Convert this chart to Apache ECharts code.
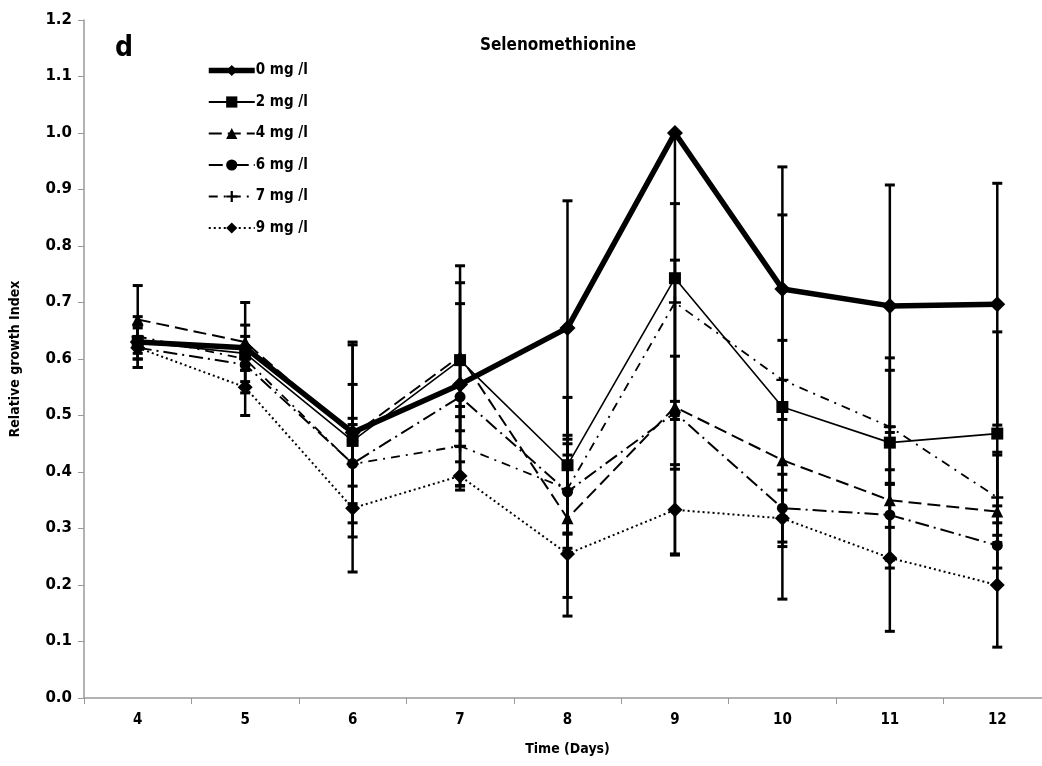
<!DOCTYPE html>
<html><head><meta charset="utf-8">
<script src="https://cdn.jsdelivr.net/npm/echarts@6/dist/echarts.min.js"></script>
<style>html,body{margin:0;padding:0;background:#fff;overflow:hidden}#c{width:1042px;height:766px}</style>
</head><body><div id="c"></div>
<script>
var days = ['4','5','6','7','8','9','10','11','12'];
var yTicks = ['0.0','0.1','0.2','0.3','0.4','0.5','0.6','0.7','0.8','0.9','1.0','1.1','1.2'];
var names = ['0 mg /l','2 mg /l','4 mg /l','6 mg /l','7 mg /l','9 mg /l'];
var v0 = [0.63, 0.62, 0.47, 0.555, 0.655, 1.00, 0.724, 0.694, 0.697];
var v2 = [0.63, 0.61, 0.455, 0.598, 0.412, 0.743, 0.515, 0.452, 0.468];
var v4 = [0.67, 0.63, 0.465, 0.605, 0.318, 0.515, 0.421, 0.350, 0.330];
var v6 = [0.62, 0.59, 0.415, 0.533, 0.365, 0.505, 0.336, 0.324, 0.270];
var v7 = [0.64, 0.60, 0.414, 0.446, 0.370, 0.700, 0.563, 0.480, 0.355];
var v9 = [0.62, 0.55, 0.336, 0.393, 0.255, 0.333, 0.318, 0.248, 0.200];
var e0 = [0.045, 0.08, 0.16, 0.18, 0.225, 0.0, 0.216, 0.214, 0.214];
var e2 = [0.03, 0.03, 0.17, 0.10, 0.12, 0.25, 0.34, 0.15, 0.18];
var e4 = [0.06, 0.03, 0.09, 0.16, 0.14, 0.26, 0.10, 0.12, 0.10];
var e6 = [0.02, 0.03, 0.08, 0.06, 0.10, 0.10, 0.06, 0.08, 0.07];
var e7 = [0.02, 0.02, 0.07, 0.07, 0.08, 0.175, 0.07, 0.10, 0.08];
var e9 = [0.035, 0.05, 0.113, 0.025, 0.11, 0.08, 0.05, 0.13, 0.11];

var values = [v0, v2, v4, v6, v7, v9];
var errs = [e0, e2, e4, e6, e7, e9];
var plusPath = 'path://M4,0h2v4h4v2h-4v4h-2v-4h-4v-2h4z';
var styles = [
  {w: 5.5, type: 'solid', sym: 'diamond', size: 16},
  {w: 1.6, type: 'solid', sym: 'rect', size: 12},
  {w: 2, type: [13, 6], sym: 'triangle', size: 12},
  {w: 2, type: [14, 5, 2, 5], sym: 'circle', size: 11},
  {w: 1.8, type: [9, 6, 2, 6], sym: plusPath, size: 12},
  {w: 2, type: [2, 3], sym: 'diamond', size: 15}
];
var font = '"DejaVu Sans", Verdana, sans-serif';
var font2 = '"DejaVu Sans Condensed", "DejaVu Sans", sans-serif';

var series = [];
values.forEach(function (vals, i) {
  var data = vals.map(function (v, k) { return [k, v, errs[i][k]]; });
  series.push({
    type: 'custom', name: names[i] + '_err', z: 1, silent: true,
    data: data,
    renderItem: function (params, api) {
      var x = api.value(0), m = api.value(1), e = api.value(2);
      if (e <= 0) return null;
      var top = api.coord([x, m + e]), bot = api.coord([x, m - e]);
      var hw = 5;
      return {type: 'group', children: [
        {type: 'line', shape: {x1: top[0], y1: top[1], x2: bot[0], y2: bot[1]}, style: {stroke: '#000', lineWidth: 2.5}},
        {type: 'line', shape: {x1: top[0] - hw, y1: top[1], x2: top[0] + hw, y2: top[1]}, style: {stroke: '#000', lineWidth: 3}},
        {type: 'line', shape: {x1: bot[0] - hw, y1: bot[1], x2: bot[0] + hw, y2: bot[1]}, style: {stroke: '#000', lineWidth: 3}}
      ]};
    }
  });
});
values.forEach(function (vals, i) {
  var s = styles[i];
  series.push({
    type: 'line', name: names[i], data: vals, z: 3 + (i === 0 ? 1 : 0),
    symbol: s.sym, symbolSize: s.size, showAllSymbol: true,
    lineStyle: {color: '#000', width: s.w, type: s.type},
    itemStyle: {color: '#000', borderWidth: 0},
    emphasis: {disabled: true}
  });
});

var legendData = names.map(function (n, i) {
  var s = styles[i];
  return {name: n, lineStyle: {width: i === 0 ? 5.5 : 2, type: s.type, color: '#000'}};
});

var chart = echarts.init(document.getElementById('c'), null, {renderer: 'canvas', width: 1042, height: 766});
chart.setOption({
  animation: false,
  backgroundColor: '#fff',
  title: [
    {text: 'Selenomethionine', left: 553, top: 32, textAlign: 'center',
     textStyle: {fontFamily: font2, fontWeight: 'bold', fontSize: 17, color: '#000'}},
    {text: 'd', left: 110, top: 30,
     textStyle: {fontFamily: font2, fontWeight: 'bold', fontSize: 28, color: '#000'}}
  ],
  legend: {
    data: legendData, orient: 'vertical', left: 206, top: 63, padding: 0,
    itemWidth: 46, itemHeight: 14, itemGap: 16.5,
    textStyle: {fontFamily: font2, fontWeight: 'bold', fontSize: 15, color: '#000', padding: [0, 0, 0, -4]}
  },
  grid: {left: 84, width: 967, top: 20, bottom: 68, containLabel: false, outerBoundsMode: 'none'},
  xAxis: {
    type: 'category', data: days, boundaryGap: true,
    name: 'Time (Days)', nameLocation: 'middle', nameGap: 44,
    nameTextStyle: {fontFamily: font2, fontWeight: 'bold', fontSize: 14, color: '#000'},
    axisLine: {lineStyle: {color: '#999', width: 1.5}},
    axisTick: {show: true, alignWithLabel: false, length: 6, lineStyle: {color: '#999'}},
    axisLabel: {fontFamily: font2, fontWeight: 'bold', fontSize: 15, color: '#000', margin: 15},
    splitLine: {show: false}
  },
  yAxis: {
    type: 'value', min: 0, max: 1.2, interval: 0.1,
    name: 'Relative growth Index', nameLocation: 'middle', nameGap: 62, nameRotate: 90,
    nameTextStyle: {fontFamily: font2, fontWeight: 'bold', fontSize: 14, color: '#000'},
    axisLine: {show: true, lineStyle: {color: '#999', width: 1.5}},
    axisTick: {show: true, length: 6, lineStyle: {color: '#999'}},
    axisLabel: {fontFamily: font, fontWeight: 'bold', fontSize: 15, color: '#000', margin: 12,
      formatter: function (v) { return yTicks[Math.round(v * 10)]; }},
    splitLine: {show: false}
  },
  series: series
});
</script></body></html>
